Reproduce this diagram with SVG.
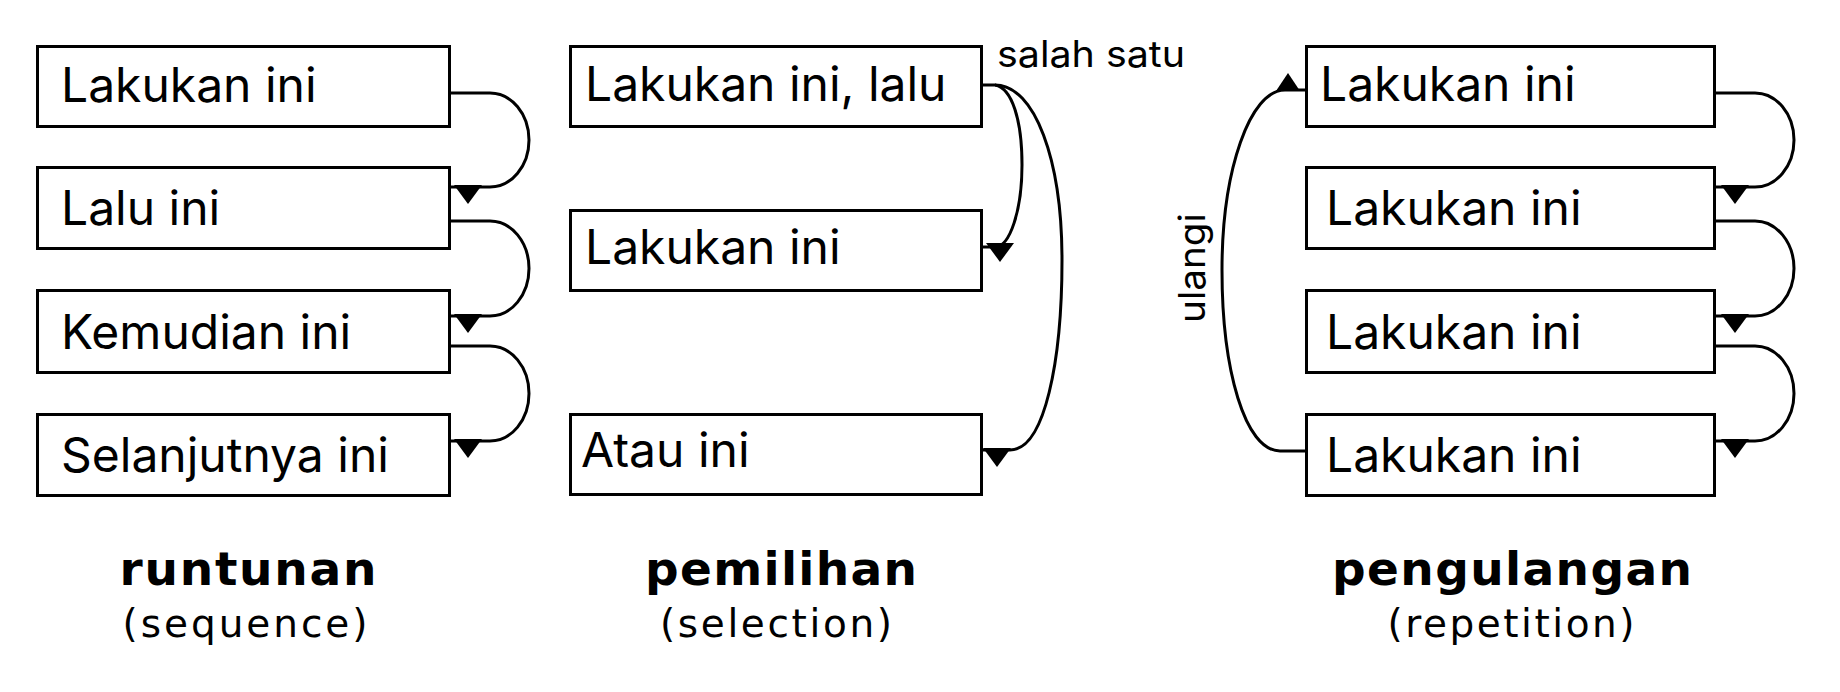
<svg xmlns="http://www.w3.org/2000/svg" xmlns:xlink="http://www.w3.org/1999/xlink" width="1840" height="692" viewBox="0 0 1840 692">
<style>
.box{fill:#fff;stroke:#000;stroke-width:3}
.lbl{font-family:Inter,"Liberation Sans",sans-serif;font-size:48px;fill:#000}
.small{font-family:Inter,"Liberation Sans",sans-serif;font-size:37px;fill:#000}
.title{font-family:"DejaVu Sans",sans-serif;font-weight:bold;font-size:47px;fill:#000;text-anchor:middle}
.sub{font-family:"DejaVu Sans",sans-serif;font-size:39px;fill:#000;text-anchor:middle}
.conn{fill:none;stroke:#000;stroke-width:3}
.head{fill:#000}
</style>
<defs>
<path id="tdown" d="M-14,0 L14,0 L0,19 Z"/>
<path id="tup" d="M-12,0 L12,0 L0,-18 Z"/>
</defs>
<rect width="1840" height="692" fill="#fff"/>

<g id="seq1"><rect class="box" x="37.5" y="46.5" width="412" height="80"/><text class="lbl" x="61" y="102">Lakukan ini</text></g>
<g id="seq2"><rect class="box" x="37.5" y="167.5" width="412" height="81"/><text class="lbl" x="61" y="225">Lalu ini</text></g>
<g id="seq3"><rect class="box" x="37.5" y="290.5" width="412" height="82"/><text class="lbl" x="61" y="349">Kemudian ini</text></g>
<g id="seq4"><rect class="box" x="37.5" y="414.5" width="412" height="81"/><text class="lbl" x="61" y="472">Selanjutnya ini</text></g>

<g id="sel1"><rect class="box" x="570.5" y="46.5" width="411" height="80"/><text class="lbl" x="585" y="101">Lakukan ini, lalu</text></g>
<g id="sel2"><rect class="box" x="570.5" y="210.5" width="411" height="80"/><text class="lbl" x="585" y="264">Lakukan ini</text></g>
<g id="sel3"><rect class="box" x="570.5" y="414.5" width="411" height="80"/><text class="lbl" x="581" y="467">Atau ini</text></g>

<g id="rep1"><rect class="box" x="1306.5" y="46.5" width="408" height="80"/><text class="lbl" x="1320" y="101">Lakukan ini</text></g>
<g id="rep2"><rect class="box" x="1306.5" y="167.5" width="408" height="81"/><text class="lbl" x="1326" y="225">Lakukan ini</text></g>
<g id="rep3"><rect class="box" x="1306.5" y="290.5" width="408" height="82"/><text class="lbl" x="1326" y="349">Lakukan ini</text></g>
<g id="rep4"><rect class="box" x="1306.5" y="414.5" width="408" height="81"/><text class="lbl" x="1326" y="472">Lakukan ini</text></g>

<g id="connectors">
<path class="conn" d="M451,93 L490,93 A39,47 0 0 1 490,187 L451,187"/>
<path class="conn" d="M451,221 L490,221 A39,47.5 0 0 1 490,316 L451,316"/>
<path class="conn" d="M451,346 L490,346 A39,47.5 0 0 1 490,441 L451,441"/>
<use href="#tdown" class="head" x="468" y="185"/>
<use href="#tdown" class="head" x="468" y="314"/>
<use href="#tdown" class="head" x="468" y="439"/>

<path class="conn" d="M983,85 L995,85 C1012,88 1022,120 1022,165 C1022,210 1010,247 995,247 L983,247"/>
<path class="conn" d="M995,85 C1035,85 1062,160 1062,260 C1062,360 1045,450 1010,450 L983,450"/>
<use href="#tdown" class="head" x="1000" y="243"/>
<use href="#tdown" class="head" x="997" y="448"/>

<path class="conn" d="M1716,93 L1755,93 A39,47 0 0 1 1755,187 L1716,187"/>
<path class="conn" d="M1716,221 L1755,221 A39,47.5 0 0 1 1755,316 L1716,316"/>
<path class="conn" d="M1716,346 L1755,346 A39,47.5 0 0 1 1755,441 L1716,441"/>
<use href="#tdown" class="head" x="1735" y="185"/>
<use href="#tdown" class="head" x="1735" y="314"/>
<use href="#tdown" class="head" x="1735" y="439"/>

<path class="conn" d="M1306,451 L1280,451 C1245,451 1222,370 1222,270 C1222,170 1250,90 1285,90 L1306,90"/>
<use href="#tup" class="head" x="1288" y="91"/>
</g>

<text class="small" x="997" y="67" textLength="188" lengthAdjust="spacingAndGlyphs">salah satu</text>
<text class="small" transform="translate(1205,323) rotate(-90)" textLength="110" lengthAdjust="spacingAndGlyphs">ulangi</text>

<text class="title" x="248" y="585" textLength="257" lengthAdjust="spacing">runtunan</text>
<text class="sub" x="245" y="637" textLength="245" lengthAdjust="spacing">(sequence)</text>
<text class="title" x="781" y="585" textLength="272" lengthAdjust="spacing">pemilihan</text>
<text class="sub" x="776" y="637" textLength="232" lengthAdjust="spacing">(selection)</text>
<text class="title" x="1512" y="585" textLength="360" lengthAdjust="spacing">pengulangan</text>
<text class="sub" x="1511" y="637" textLength="247" lengthAdjust="spacing">(repetition)</text>
</svg>
